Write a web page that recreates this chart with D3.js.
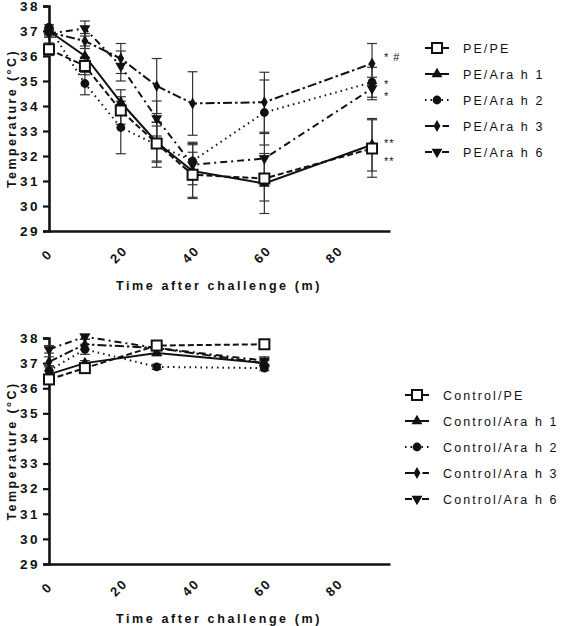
<!DOCTYPE html>
<html>
<head>
<meta charset="utf-8">
<script src="https://cdn.jsdelivr.net/npm/d3@7"></script>
<style>
  body { margin: 0; background: #fff; }
  svg { display: block; }
  text { font-family: "Liberation Sans", Arial, sans-serif; fill: #111; }
</style>
</head>
<body>
<svg id="chart" width="567" height="626"></svg>
<script>
// ---------- DATA ----------
const timesTop = [0, 10, 20, 30, 40, 60, 90];
const timesBottom = [0, 10, 30, 60];
const xTicks = [0, 20, 40, 60, 80];
const yTicks = [29, 30, 31, 32, 33, 34, 35, 36, 37, 38];

const topNames = ["PE/PE", "PE/Ara h 1", "PE/Ara h 2", "PE/Ara h 3", "PE/Ara h 6"];
const topPE    = [36.27, 35.6, 33.82, 32.5, 31.25, 31.1, 32.3];
const topH1    = [37.0, 36.0, 34.15, 32.55, 31.4, 30.9, 32.45];
const topH2    = [37.15, 34.9, 33.14, 32.45, 31.8, 33.74, 34.95];
const topH3    = [36.95, 36.6, 35.9, 34.8, 34.1, 34.15, 35.7];
const topH6    = [36.9, 37.1, 35.6, 33.5, 31.65, 31.9, 34.7];
const errPE    = [0.25, 0.35, 0.55, 0.7, 0.9, 0.9, 1.15];
const errH1    = [0.15, 0.4, 0.5, 0.8, 1.1, 1.2, 1.05];
const errH2    = [0.1, 0.45, 1.05, 0.9, 0.75, 1.3, 0.6];
const errH3    = [0.15, 0.3, 0.6, 1.1, 1.27, 1.2, 0.8];
const errH6    = [0.15, 0.3, 0.6, 0.7, 0.8, 1.0, 0.45];

const botNames = ["Control/PE", "Control/Ara h 1", "Control/Ara h 2", "Control/Ara h 3", "Control/Ara h 6"];
const botPE    = [36.35, 36.8, 37.7, 37.75];
const botH1    = [36.55, 37.0, 37.4, 37.0];
const botH2    = [36.7, 37.55, 36.85, 36.8];
const botH3    = [37.05, 37.75, 37.6, 37.0];
const botH6    = [37.55, 38.05, 37.6, 37.1];
const botErrPE = [0.15, 0.1, 0.1, 0.1];
const botErrH1 = [0.15, 0.1, 0.1, 0.1];
const botErrH2 = [0.2, 0.2, 0.1, 0.1];
const botErrH3 = [0.2, 0.2, 0.1, 0.15];
const botErrH6 = [0.15, 0.1, 0.1, 0.15];

const annTexts  = ["* #", "*", "*", "**", "**"];
const annValues = [36.05, 34.95, 34.5, 32.6, 31.9];

// ---------- STYLES ----------
const dashes  = ["6,3", null, "1.5,4", "9,3,2.5,3", "7,4,2,4"];
const symbols = ["square", "triangle", "circle", "diamond", "down"];

const svg = d3.select("#chart");

function drawMarker(g, type, x, y) {
  if (type === "square") {
    g.append("rect").attr("x", x - 5).attr("y", y - 5).attr("width", 10).attr("height", 10)
      .attr("fill", "#fff").attr("stroke", "#111").attr("stroke-width", 2);
  } else if (type === "triangle") {
    g.append("path").attr("d", d3.symbol(d3.symbolTriangle, 52)()).attr("transform", `translate(${x},${y})`).attr("fill", "#111");
  } else if (type === "circle") {
    g.append("circle").attr("cx", x).attr("cy", y).attr("r", 4.4).attr("fill", "#111");
  } else if (type === "diamond") {
    g.append("path").attr("d", d3.symbol(d3.symbolDiamond, 40)()).attr("transform", `translate(${x},${y})`).attr("fill", "#111");
  } else if (type === "down") {
    g.append("path").attr("d", d3.symbol(d3.symbolTriangle, 52)()).attr("transform", `translate(${x},${y}) rotate(180)`).attr("fill", "#111");
  }
}

function panel(opts) {
  const { y0, y1, times, series, errs, names, legX, legY, textX, ann } = opts;
  const x = d3.scaleLinear().domain([0, 95]).range([49, 390]);
  const y = d3.scaleLinear().domain([29, 38]).range([y1, y0]);
  const g = svg.append("g");

  // axes
  const ya = g.append("g").attr("transform", "translate(49,0)")
    .call(d3.axisLeft(y).tickValues(yTicks).tickSize(6).tickPadding(3).tickFormat(d3.format("d")));
  ya.select(".domain").attr("stroke", "#111").attr("stroke-width", 2.6);
  ya.selectAll(".tick line").attr("stroke", "#111").attr("stroke-width", 2.2);
  ya.selectAll(".tick text").style("font-size", "13.5px").style("font-weight", "bold")
    .style("letter-spacing", "2.5px").style("font-family", "Liberation Sans, Arial, sans-serif").attr("fill", "#111");

  const xa = g.append("g").attr("transform", `translate(0,${y1})`)
    .call(d3.axisBottom(x).tickValues(xTicks).tickSize(0).tickFormat(d3.format("d")));
  xa.select(".domain").attr("stroke", "#111").attr("stroke-width", 2.6);
  xa.selectAll(".tick text").style("font-size", "13px").style("font-weight", "bold")
    .style("letter-spacing", "2px").style("font-family", "Liberation Sans, Arial, sans-serif")
    .attr("fill", "#111").attr("text-anchor", "middle").attr("dy", 0).attr("y", 28).attr("x", -2)
    .attr("transform", "rotate(-45 -2 24)");

  // titles
  g.append("text").attr("x", 219).attr("y", y1 + 59).attr("text-anchor", "middle")
    .style("font-size", "12.5px").style("font-weight", "bold").style("letter-spacing", "2.6px")
    .text("Time after challenge (m)");
  const yc = (y0 + y1) / 2;
  g.append("text").attr("transform", `translate(16,${yc}) rotate(-90)`).attr("text-anchor", "middle")
    .style("font-size", "12.5px").style("font-weight", "bold").style("letter-spacing", "2.4px")
    .text("Temperature (°C)");

  // error bars
  series.forEach((s, si) => {
    s.forEach((v, i) => {
      const e = errs[si][i];
      const cx = x(times[i]);
      const eg = g.append("g").attr("stroke", "#333").attr("stroke-width", 1.2);
      eg.append("line").attr("x1", cx).attr("x2", cx).attr("y1", y(v - e)).attr("y2", y(v + e));
      eg.append("line").attr("x1", cx - 5).attr("x2", cx + 5).attr("y1", y(v - e)).attr("y2", y(v - e));
      eg.append("line").attr("x1", cx - 5).attr("x2", cx + 5).attr("y1", y(v + e)).attr("y2", y(v + e));
    });
  });

  // lines
  const line = d3.line().x(d => x(d[0])).y(d => y(d[1]));
  series.forEach((s, si) => {
    g.append("path").datum(s.map((v, i) => [times[i], v]))
      .attr("d", line).attr("fill", "none").attr("stroke", "#111").attr("stroke-width", 2)
      .attr("stroke-dasharray", dashes[si]);
  });

  // markers
  [4, 3, 2, 1, 0].forEach(si => {
    series[si].forEach((v, i) => drawMarker(g, symbols[si], x(times[i]), y(v)));
  });

  // legend
  names.forEach((n, i) => {
    const ly = legY + i * 26;
    g.append("line").attr("x1", legX).attr("x2", legX + 24).attr("y1", ly).attr("y2", ly)
      .attr("stroke", "#111").attr("stroke-width", 2).attr("stroke-dasharray", dashes[i]);
    drawMarker(g, symbols[i], legX + 12, ly);
    g.append("text").attr("x", textX).attr("y", ly + 5).style("font-size", "12.5px")
      .style("letter-spacing", "2.1px").text(n);
  });

  // annotations
  if (ann) {
    ann.texts.forEach((t, i) => {
      g.append("text").attr("x", 384).attr("y", y(ann.values[i]) + 6)
        .style("font-size", "11px").style("letter-spacing", "1px").text(t);
    });
  }
}

panel({
  y0: 6, y1: 231, times: timesTop,
  series: [topPE, topH1, topH2, topH3, topH6],
  errs: [errPE, errH1, errH2, errH3, errH6],
  names: topNames, legX: 425, legY: 48, textX: 463,
  ann: { texts: annTexts, values: annValues }
});

panel({
  y0: 338, y1: 564, times: timesBottom,
  series: [botPE, botH1, botH2, botH3, botH6],
  errs: [botErrPE, botErrH1, botErrH2, botErrH3, botErrH6],
  names: botNames, legX: 405, legY: 395, textX: 443,
  ann: null
});
</script>
</body>
</html>
